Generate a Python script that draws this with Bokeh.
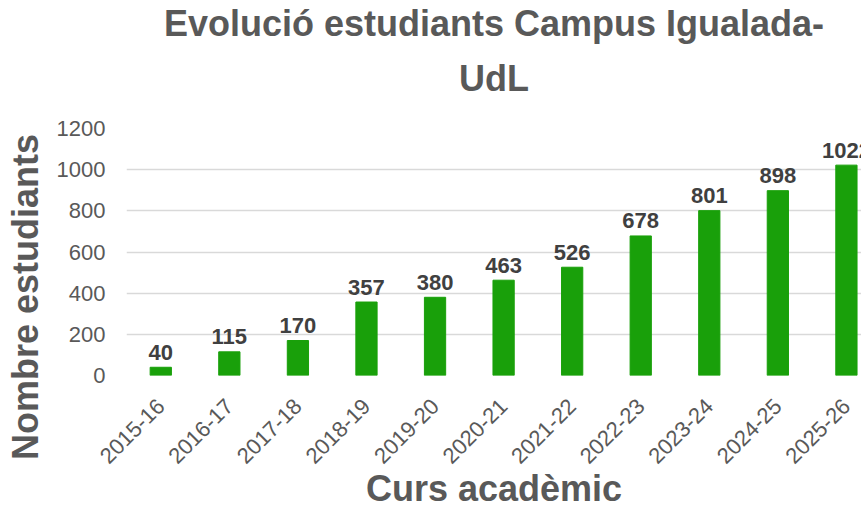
import math
from bokeh.plotting import figure
from bokeh.models import ColumnDataSource, Range1d, FixedTicker, Title
from bokeh.core.properties import value
from bokeh.embed import file_html
from bokeh.resources import INLINE

courses = ["2015-16", "2016-17", "2017-18", "2018-19", "2019-20", "2020-21",
           "2021-22", "2022-23", "2023-24", "2024-25", "2025-26"]
students = [40, 115, 170, 357, 380, 463, 526, 678, 801, 898, 1022]
y_ticks = [0, 200, 400, 600, 800, 1000, 1200]

title_line1 = "Evolució estudiants Campus Igualada-"
title_line2 = "UdL"
y_title = "Nombre estudiants"
x_title = "Curs acadèmic"

FONT = "Liberation Sans"
GRAY = "#595959"

xs = list(range(len(courses)))
src = ColumnDataSource(dict(x=xs, y=students, lbl=[str(v) for v in students]))

p = figure(width=861, height=511, output_backend="svg", toolbar_location=None,
           x_range=Range1d(-0.5, 10.22), y_range=Range1d(0, 1200),
           min_border_left=126, min_border_right=0, min_border_top=128,
           min_border_bottom=136)
p.outline_line_color = None
p.background_fill_color = "white"
p.border_fill_color = "white"

p.vbar(x="x", top="y", width=0.31, source=src, color="#19a00a")
p.text(x="x", y="y", text="lbl", source=src, text_align="center",
       text_baseline="alphabetic", y_offset=-15, text_font=value(FONT),
       text_font_style="bold", text_font_size="22px", text_color="#404040")

p.xgrid.grid_line_color = None
p.ygrid.grid_line_color = "#d9d9d9"
p.ygrid.grid_line_width = 1.5
p.yaxis.ticker = FixedTicker(ticks=y_ticks)
p.xaxis.ticker = FixedTicker(ticks=xs)
p.xaxis.major_label_overrides = {i: c for i, c in enumerate(courses)}
p.xaxis.major_label_orientation = math.pi / 4

for ax in (p.xaxis, p.yaxis):
    ax.axis_line_color = None
    ax.major_tick_line_color = None
    ax.minor_tick_line_color = None
    ax.major_tick_out = 0
    ax.major_tick_in = 0
    ax.major_label_text_font = FONT
    ax.major_label_text_font_size = "22px"
    ax.major_label_text_color = GRAY
    ax.axis_label_text_font = FONT
    ax.axis_label_text_font_style = "bold"
    ax.axis_label_text_color = GRAY
p.yaxis.major_label_standoff = 21
p.xaxis.major_label_standoff = 27

# trailing no-break spaces shift the centred vertical label downwards
p.yaxis.axis_label = y_title + "\u00a0" * 9
p.yaxis.axis_label_text_font_size = "36px"
p.yaxis.axis_label_standoff = 8

tstyle = dict(align="center", text_font=FONT, text_font_style="bold",
              text_color=GRAY, text_font_size="36px")
p.add_layout(Title(text=title_line2, standoff=60, **tstyle), "above")
p.add_layout(Title(text=title_line1, standoff=-37, **tstyle), "above")
p.add_layout(Title(text=x_title, standoff=-16, **tstyle), "below")

open("out.html", "w").write(file_html(p, INLINE))
